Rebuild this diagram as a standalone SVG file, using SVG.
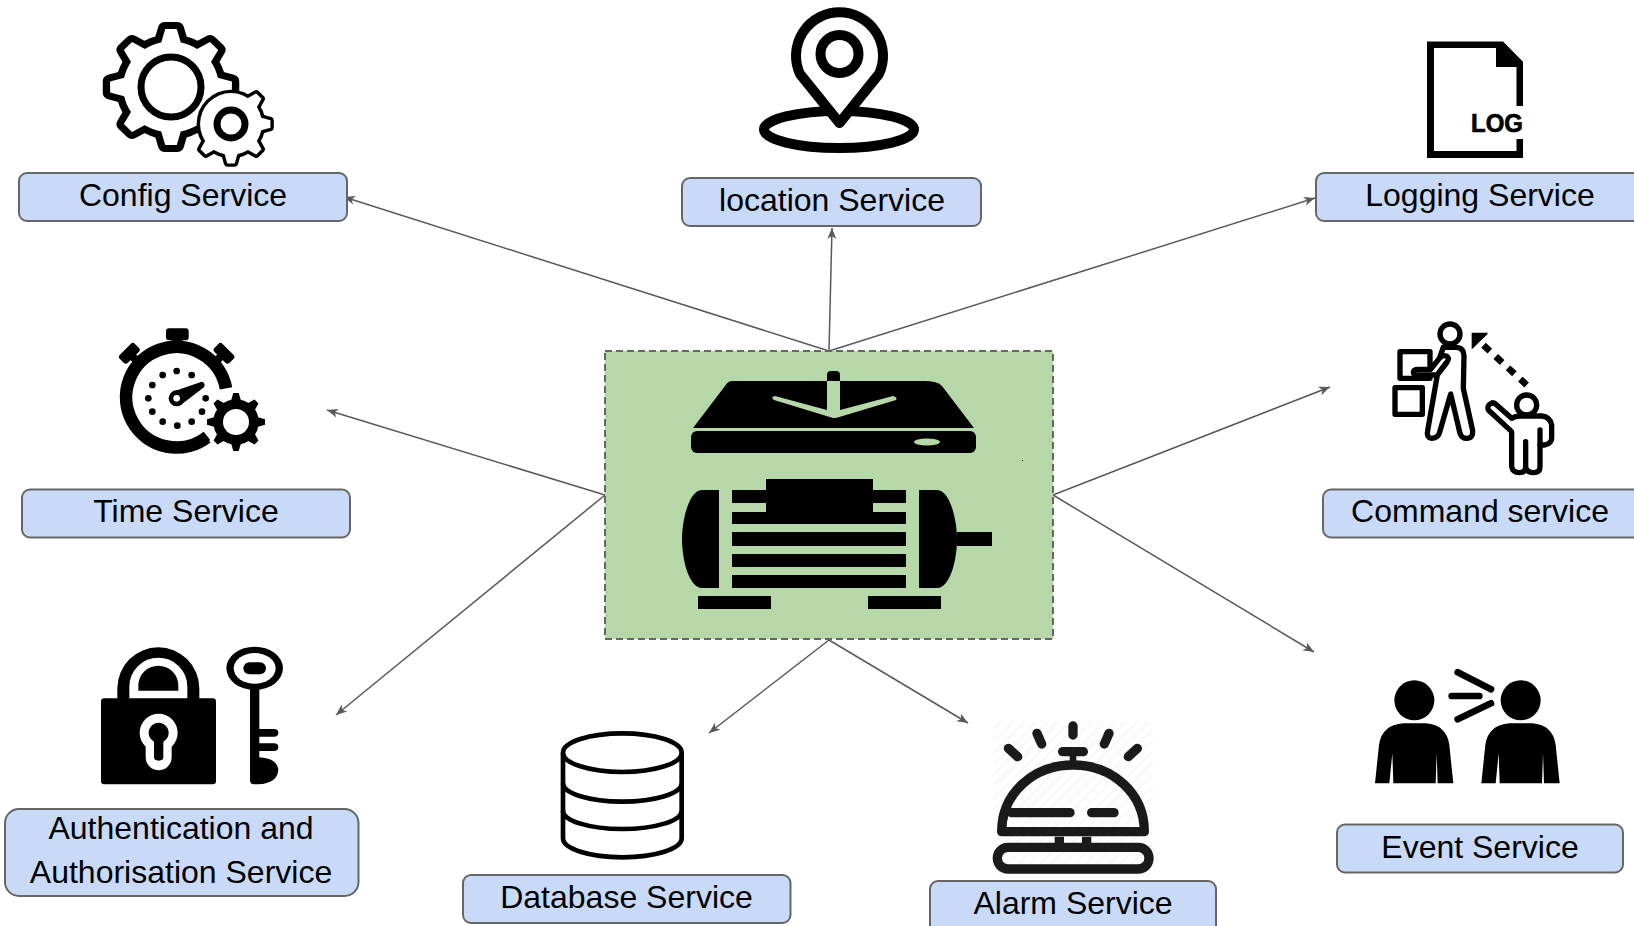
<svg xmlns="http://www.w3.org/2000/svg" width="1634" height="926" viewBox="0 0 1634 926">
<style>
.box{fill:#c9daf8;stroke:#666;stroke-width:2}
.lbl{font-family:"Liberation Sans",Arial,sans-serif;font-size:32px;fill:#000;text-anchor:middle}
.conn{stroke:#595959;stroke-width:1.5;fill:none;marker-end:url(#arr)}
.gr{fill:#b6d7a8}
</style>
<defs>
<marker id="arr" markerUnits="userSpaceOnUse" markerWidth="14" markerHeight="12" refX="12" refY="6" orient="auto"><path d="M12,6 L1,1.5 L4,6 L1,10.5 Z" fill="#595959"/></marker>
<g id="tooth"><polygon points="-5.5,-58 5.5,-58 10,-42 -10,-42"/></g>
<g id="gear"><circle r="45.5"/><use href="#tooth"/><use href="#tooth" transform="rotate(45)"/><use href="#tooth" transform="rotate(90)"/><use href="#tooth" transform="rotate(135)"/><use href="#tooth" transform="rotate(180)"/><use href="#tooth" transform="rotate(225)"/><use href="#tooth" transform="rotate(270)"/><use href="#tooth" transform="rotate(315)"/></g>
<g id="gear5"><circle r="45.5"/><use href="#tooth" transform="rotate(45)"/><use href="#tooth" transform="rotate(90)"/><use href="#tooth" transform="rotate(135)"/><use href="#tooth" transform="rotate(180)"/><use href="#tooth" transform="rotate(225)"/></g>
<pattern id="hatch" patternUnits="userSpaceOnUse" width="24" height="24" patternTransform="rotate(-45)"><rect width="24" height="24" fill="#fff"/><rect width="24" height="7" fill="#f8f8f8"/></pattern>
</defs>

<g id="connectors">
<line class="conn" x1="829" y1="351" x2="344" y2="197"/>
<line class="conn" x1="829" y1="351" x2="832" y2="228"/>
<line class="conn" x1="829" y1="351" x2="1315" y2="198"/>
<line class="conn" x1="605" y1="495" x2="327" y2="410"/>
<line class="conn" x1="1053" y1="495" x2="1330" y2="387"/>
<line class="conn" x1="605" y1="495" x2="336" y2="715"/>
<line class="conn" x1="1053" y1="495" x2="1314" y2="652"/>
<line class="conn" x1="829" y1="640" x2="709" y2="733"/>
<line class="conn" x1="829" y1="640" x2="968" y2="723"/>
</g>

<g id="center">
<rect x="605" y="351" width="448" height="288" fill="#b6d7a8" stroke="#666" stroke-width="2" stroke-dasharray="7 4"/>
<path d="M732,381 H923 Q938,381 942,386 L974,428 H693 L725,386 Q728,381 732,381 Z" fill="#000"/>
<rect x="691" y="431" width="285" height="22" rx="6" fill="#000"/>
<ellipse class="gr" cx="927" cy="442" rx="13" ry="3.5"/>
<path d="M827,381 V375 Q827,371 831,371 H836 Q840,371 840,375 V381 Z" fill="#000"/>
<path class="gr" d="M827,381 H840 V410 L893,396 Q898,397 896,400 L836,418 H833 L774,400 Q770,397 775,396 L827,410 Z"/>
<path d="M719,490 H702 C689,490 682,520 682,539 C682,560 689,588 702,588 H719 Z" fill="#000"/>
<path d="M919,490 H937 C950,490 957,520 957,539 C957,560 950,588 937,588 H919 Z" fill="#000"/>
<rect x="957" y="532" width="35" height="14" fill="#000"/>
<path d="M766,479 H873 V490 H906 V503 H873 V512 H906 V524 H732 V512 H766 V503 H732 V490 H766 Z" fill="#000"/>
<rect x="732" y="532" width="174" height="14" fill="#000"/>
<rect x="732" y="554" width="174" height="13" fill="#000"/>
<rect x="732" y="575" width="174" height="13" fill="#000"/>
<rect x="698" y="596" width="73" height="13" fill="#000"/>
<rect x="868" y="596" width="73" height="13" fill="#000"/>
<rect x="1022" y="460" width="1" height="1" fill="#333"/>
</g>

<g id="config-service">
<g transform="translate(171,87) scale(1.05,1)"><use href="#gear" fill="#000" stroke="#000" stroke-width="14" stroke-linejoin="round"/><use href="#gear" fill="#fff"/></g>
<circle cx="171" cy="87" r="30" fill="#fff" stroke="#000" stroke-width="7"/>
<g transform="translate(231,124) scale(.68)"><use href="#gear5" fill="#000" stroke="#000" stroke-width="10" stroke-linejoin="round"/><use href="#gear5" fill="#fff"/></g>
<circle cx="231" cy="124" r="14" fill="#fff" stroke="#000" stroke-width="7"/>
<rect class="box" x="19" y="173" width="328" height="48" rx="8"/>
<text class="lbl" x="183" y="206">Config Service</text>
</g>

<g id="location-service">
<ellipse cx="839" cy="129.500" rx="75" ry="18.500" fill="#fff" stroke="#000" stroke-width="10"/>
<path d="M839.500,123 L800,74 A43.500,43.500 0 1 1 879,74 Z" fill="#fff" stroke="#000" stroke-width="10" stroke-linejoin="round"/>
<circle cx="839.500" cy="54" r="19" fill="#fff" stroke="#000" stroke-width="10"/>
<rect class="box" x="682" y="178" width="299" height="48" rx="8"/>
<text class="lbl" x="832" y="211">location Service</text>
</g>

<g id="logging-service">
<path d="M1427,41.500 H1503 L1523,62 V106 H1516.500 V67 H1496 V48 H1434 V151 H1516.500 V139 H1523 V158 H1427 Z" fill="#000"/>
<polygon points="1496,42 1503,42 1523,62 1523,67 1496,67" fill="#000"/>
<text x="1471" y="132" font-family="'Liberation Sans',Arial,sans-serif" font-weight="700" font-size="26" stroke="#000" stroke-width=".7" textLength="52" lengthAdjust="spacingAndGlyphs">LOG</text>
<rect class="box" x="1316" y="173" width="328" height="48" rx="8"/>
<text class="lbl" x="1480" y="206">Logging Service</text>
</g>

<g id="time-service">
<g transform="translate(90,310) scale(.33333)">
<path d="M408,235 A151,151 0 1 0 353,380" fill="none" stroke="#000" stroke-width="38"/>
<rect x="228" y="55" width="68" height="36" rx="9"/><rect x="245" y="85" width="33" height="35"/>
<g transform="translate(118,130) rotate(-45)"><rect x="-32" y="-17" width="64" height="34" rx="9"/><rect x="-12" y="10" width="24" height="30"/></g>
<g transform="translate(402,130) rotate(45)"><rect x="-32" y="-17" width="64" height="34" rx="9"/><rect x="-12" y="10" width="24" height="30"/></g>
<circle cx="260" cy="183" r="10"/><circle cx="305" cy="195" r="10"/><circle cx="347" cy="265" r="10"/><circle cx="336" cy="305" r="10"/><circle cx="305" cy="335" r="10"/><circle cx="262" cy="347" r="10"/><circle cx="218" cy="335" r="10"/><circle cx="187" cy="305" r="10"/><circle cx="175" cy="265" r="10"/><circle cx="187" cy="225" r="10"/><circle cx="218" cy="195" r="10"/>
<path d="M248,245 L335,215 Q348,218 342,232 L272,285 Z"/>
<circle cx="260" cy="265" r="24"/><circle cx="260" cy="265" r="10" fill="#fff"/>
</g>
<g transform="translate(236,422) scale(.5)"><use href="#gear" fill="#fff" stroke="#fff" stroke-width="14"/><use href="#gear" fill="#000"/></g>
<circle cx="236" cy="422" r="13" fill="#fff"/>
<rect class="box" x="22" y="489.500" width="328" height="48" rx="8"/>
<text class="lbl" x="186" y="522">Time Service</text>
</g>

<g id="command-service">
<g transform="translate(1360,310) scale(.33333)" fill="#fff" stroke="#000" stroke-width="16" stroke-linejoin="round" stroke-linecap="round">
<rect x="105" y="233" width="82" height="80"/>
<rect x="120" y="125" width="90" height="80"/>
<path d="M250,112 H290 Q312,114 312,138 L310,235 L338,362 Q340,385 320,385 Q305,385 300,370 L272,252 L238,370 Q232,385 215,385 Q198,382 203,362 L232,195 H175 Q160,195 160,187 Q160,178 175,178 H212 L238,145 Q248,134 258,138 Q272,145 258,160 L235,190"/>
<path d="M235,190 L258,160 M240,140 L250,112" fill="none"/>
<circle cx="270" cy="72" r="30"/>
<path d="M500,225 L350,87" fill="none" stroke-width="20" stroke-dasharray="26 24" stroke-linecap="butt"/>
<path d="M337,116 V72 H383 Z" fill="#000" stroke="none"/>
<path d="M335,118 V68 H385 L368,84 L351,84 V101 Z" fill="#000" stroke="none"/>
<path d="M395,280 Q380,285 385,300 L455,365 V470 Q458,488 478,488 Q497,488 497,470 V395 V470 Q500,488 520,488 Q540,488 540,470 V405 H555 Q575,400 575,385 V345 Q570,320 545,318 H480 Q465,318 455,325 L410,285 Q400,275 395,280 Z"/>
<path d="M540,405 V360" fill="none"/>
<circle cx="500" cy="285" r="30"/>
</g>
<rect class="box" x="1323" y="489.500" width="328" height="48" rx="8"/>
<text class="lbl" x="1480" y="522">Command service</text>
</g>

<g id="auth-service">
<g transform="translate(0,630) scale(.33333)">
<path d="M352,215 V175 A123,123 0 0 1 598,175 V215 Z"/>
<path d="M388,207 V170 A87,87 0 0 1 562,170 V207 Z" fill="#fff"/>
<path d="M415,182 V167 A60,60 0 0 1 535,167 V182 Z"/>
<rect x="303" y="205" width="345" height="258" rx="10"/>
<path d="M437,350 A57,57 0 1 1 515,350 V382 A38,38 0 0 1 437,382 Z" fill="#fff"/>
<path d="M462,335 A30,30 0 1 1 490,335 V382 Q490,392 476,392 Q462,392 462,382 Z"/>
<ellipse cx="764" cy="115" rx="85" ry="65"/><ellipse cx="764" cy="115" rx="63" ry="46" fill="#fff"/><rect x="730" y="97" width="68" height="36" rx="18"/>
<path d="M750,170 H778 V297 H822 Q835,297 835,308 Q835,320 822,320 H778 V340 H822 Q835,340 835,351 Q835,363 822,363 H778 V382 Q832,385 835,420 Q832,460 775,463 H762 Q750,463 750,450 Z"/>
</g>
<rect class="box" x="5" y="809" width="353.500" height="87" rx="14"/>
<text class="lbl" x="181" y="839">Authentication and</text>
<text class="lbl" x="181" y="883">Authorisation Service</text>
</g>

<g id="database-service">
<g transform="translate(450,700) scale(.33333)" fill="none" stroke="#000" stroke-width="14">
<ellipse cx="517" cy="158" rx="178" ry="58"/>
<path d="M339,158 V415 A178,57 0 0 0 695,415 V158"/>
<path d="M339,250 A178,55 0 0 0 695,250"/>
<path d="M339,332 A178,55 0 0 0 695,332"/>
</g>
<rect class="box" x="463" y="875" width="327.500" height="48" rx="8"/>
<text class="lbl" x="626.500" y="908">Database Service</text>
</g>

<g id="alarm-service">
<g transform="translate(920,700) scale(.33333)" stroke="#1a1a1a" stroke-width="28" fill="none" stroke-linecap="round" stroke-linejoin="round">
<rect x="220" y="65" width="478" height="455" fill="url(#hatch)" stroke="none"/>
<path d="M459,78 V105 M351,100 L365,132 M567,100 L553,132 M265,145 L293,170 M652,145 L625,170 M428,155 H490"/>
<path d="M459,155 V195" stroke-width="20"/>
<path d="M245,395 C245,280 340,195 459,195 C578,195 673,280 673,395 Z"/>
<path d="M275,338 H450 M515,338 H582"/>
<path d="M418,410 V435 M500,410 V435" stroke-linecap="butt"/>
<rect x="232" y="442" width="455" height="65" rx="32"/>
</g>
<rect class="box" x="930" y="881" width="286" height="60" rx="8"/>
<text class="lbl" x="1073" y="914">Alarm Service</text>
</g>

<g id="event-service">
<g transform="translate(1320,640) scale(.33333)">
<circle cx="283" cy="181" r="60"/><circle cx="602" cy="181" r="60"/>
<path id="ep" d="M165,430 L177,315 Q185,255 250,250 H318 Q380,255 388,315 L400,430 H353 L350,340 L347,430 H220 L217,340 L208,430 Z"/>
<use href="#ep" transform="translate(319,0)"/>
<path d="M395,168 H478 M413,97 L513,148 M413,238 L513,190" stroke="#000" stroke-width="20" stroke-linecap="round"/>
</g>
<rect class="box" x="1337" y="824.500" width="286" height="48" rx="8"/>
<text class="lbl" x="1480" y="858">Event Service</text>
</g>
</svg>
